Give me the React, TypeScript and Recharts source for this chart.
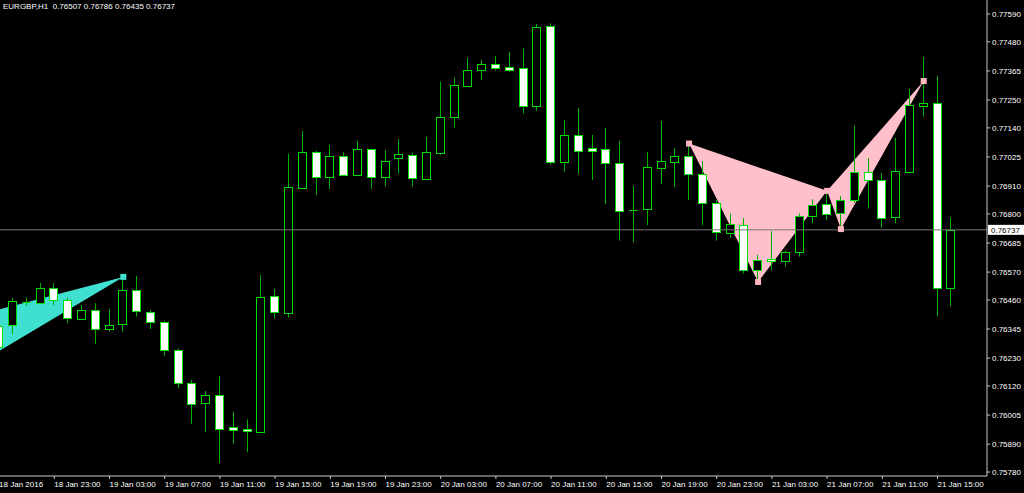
import { ComposedChart, Bar, Area, Line, XAxis, YAxis, ReferenceLine } from 'recharts';

// EURGBP H1, first bar = 18 Jan 19:00 (partly cut off at the left edge)
const tickLabels = [
  '18 Jan 2016', '18 Jan 23:00', '19 Jan 03:00', '19 Jan 07:00', '19 Jan 11:00', '19 Jan 15:00',
  '19 Jan 19:00', '19 Jan 23:00', '20 Jan 03:00', '20 Jan 07:00', '20 Jan 11:00', '20 Jan 15:00',
  '20 Jan 19:00', '20 Jan 23:00', '21 Jan 03:00', '21 Jan 07:00', '21 Jan 11:00', '21 Jan 15:00',
];

const priceTicks = [
  0.7759, 0.7748, 0.77365, 0.7725, 0.7714, 0.77025, 0.7691, 0.768, 0.76685,
  0.7657, 0.7646, 0.76345, 0.7623, 0.7612, 0.76005, 0.7589, 0.7578,
];

const open = [
  0.76357, 0.76361, 0.76452, 0.76449, 0.76508, 0.76461, 0.76386, 0.7642, 0.76344, 0.76364,
  0.76498, 0.76414, 0.76372, 0.76263, 0.76133, 0.76054, 0.76086, 0.75957, 0.7595, 0.75939,
  0.76476, 0.76408, 0.76904, 0.77043, 0.76945, 0.7703, 0.76954, 0.77055, 0.76945, 0.7702,
  0.77034, 0.76937, 0.77042, 0.77183, 0.77305, 0.77368, 0.77392, 0.77379, 0.77375, 0.77228,
  0.77543, 0.77004, 0.77112, 0.77059, 0.77058, 0.77, 0.76817, 0.76818, 0.76981, 0.77005,
  0.77029, 0.76959, 0.76843, 0.76723, 0.76757, 0.76577, 0.76622, 0.76614, 0.76651, 0.76791,
  0.76838, 0.76805, 0.76855, 0.76967, 0.76934, 0.76787, 0.76967, 0.77228, 0.77238, 0.76507,
];
const high = [
  0.76373, 0.76468, 0.7647, 0.76527, 0.76527, 0.76469, 0.7644, 0.76447, 0.76423, 0.76559,
  0.76555, 0.7642, 0.76378, 0.76269, 0.76144, 0.761, 0.76158, 0.76017, 0.75988, 0.76559,
  0.76503, 0.77038, 0.77128, 0.77049, 0.77072, 0.77043, 0.77089, 0.77058, 0.77053, 0.77096,
  0.7704, 0.77104, 0.77323, 0.7734, 0.77417, 0.77408, 0.77424, 0.77441, 0.77454, 0.7755,
  0.77553, 0.77171, 0.77219, 0.77112, 0.77141, 0.77089, 0.76911, 0.77045, 0.77167, 0.77059,
  0.77079, 0.77009, 0.76855, 0.76802, 0.76783, 0.76639, 0.76732, 0.76655, 0.76802, 0.76858,
  0.76884, 0.76871, 0.7715, 0.77021, 0.76962, 0.771, 0.77294, 0.7742, 0.77345, 0.76786,
];
const low = [
  0.76262, 0.76325, 0.76436, 0.76448, 0.7644, 0.76368, 0.76384, 0.76285, 0.76335, 0.76335,
  0.76394, 0.76345, 0.7624, 0.76111, 0.75971, 0.75939, 0.75816, 0.75892, 0.75858, 0.75935,
  0.76387, 0.7639, 0.769, 0.76875, 0.76898, 0.76951, 0.7695, 0.76898, 0.76908, 0.7696,
  0.76908, 0.76935, 0.77033, 0.77141, 0.77303, 0.77329, 0.77366, 0.7736, 0.77196, 0.77207,
  0.76994, 0.76967, 0.76957, 0.76934, 0.76838, 0.76694, 0.76688, 0.76756, 0.76919, 0.76906,
  0.76855, 0.76755, 0.76694, 0.76705, 0.76565, 0.76527, 0.76578, 0.76591, 0.76631, 0.76763,
  0.76776, 0.7674, 0.76844, 0.76821, 0.76746, 0.76763, 0.7696, 0.77184, 0.76394, 0.76435,
];
const close = [
  0.76274, 0.76455, 0.76452, 0.76508, 0.7646, 0.76387, 0.7642, 0.76344, 0.76362, 0.76498,
  0.76416, 0.76372, 0.76262, 0.76133, 0.7605, 0.76086, 0.75951, 0.75945, 0.75941, 0.7647,
  0.76411, 0.76908, 0.77043, 0.76945, 0.7703, 0.76954, 0.77055, 0.76945, 0.7701, 0.77037,
  0.76942, 0.77043, 0.77184, 0.77311, 0.77369, 0.77392, 0.77378, 0.7737, 0.77228, 0.7754,
  0.77005, 0.77111, 0.77047, 0.77047, 0.77002, 0.76812, 0.76817, 0.76987, 0.77008, 0.77029,
  0.76958, 0.76842, 0.76727, 0.7676, 0.76577, 0.76618, 0.76614, 0.76651, 0.76791, 0.76835,
  0.76801, 0.76855, 0.76964, 0.76934, 0.76784, 0.76968, 0.77229, 0.77238, 0.76508, 0.76737,
];

// harmonic pattern points: [bar index, price]
const cyanLeg = [[-5, 0.76095, 0.76351], [9, 0.76551, 0.76551]];
const pinkPoints = { X: [50, 0.77078], A: [55, 0.76531], B: [60, 0.76891], C: [61, 0.7674], D: [67, 0.77325] };

const lastPrice = 0.76737;

const candles = open.map((o, i) => ({
  i, o, h: high[i], l: low[i], c: close[i], range: [low[i], high[i]],
}));

const along = (p: number[], q: number[], x: number) => p[1] + ((q[1] - p[1]) * (x - p[0])) / (q[0] - p[0]);
const { X, A, B, C, D } = pinkPoints;
const triXAB = [
  { i: X[0], v: [X[1], X[1]] },
  { i: A[0], v: [A[1], along(X, B, A[0])] },
  { i: B[0], v: [B[1], B[1]] },
];
const triBCD = [
  { i: B[0], v: [B[1], B[1]] },
  { i: C[0], v: [C[1], along(B, D, C[0])] },
  { i: D[0], v: [D[1], D[1]] },
];
const cyanData = cyanLeg.map(([i, a, b]) => ({ i, v: [a, b] }));
const pinkMarks = [X, A, B, C, D].map(([i, p]) => ({ i, p }));
const cyanMarks = [{ i: cyanLeg[1][0], p: cyanLeg[1][1] }];

const FONT = '"Liberation Sans", Arial, sans-serif';
const WICK = '#00b000';
const EDGE = '#00e000';

function Candle(props: any) {
  const { x, y, width, height, payload } = props;
  if (x == null || y == null) return null;
  const top = Math.min(y, y + height);
  const hh = Math.abs(height);
  const { o, h, l, c } = payload;
  const py = (p: number) => (h === l ? top : top + ((h - p) / (h - l)) * hh);
  const cx = Math.floor(x + width / 2) + 0.5;
  const bodyTop = Math.round(py(Math.max(o, c))) + 0.5;
  const bodyBot = Math.round(py(Math.min(o, c))) + 0.5;
  return (
    <g>
      <line x1={cx} x2={cx} y1={py(h)} y2={py(l)} stroke={WICK} strokeWidth={1} />
      {bodyBot - bodyTop < 1 ? (
        <line x1={cx - 4} x2={cx + 4} y1={bodyTop} y2={bodyTop} stroke={EDGE} strokeWidth={1} />
      ) : (
        <rect x={cx - 4} y={bodyTop} width={8} height={bodyBot - bodyTop}
          fill={c > o ? '#000' : '#fff'} stroke={EDGE} strokeWidth={1} />
      )}
    </g>
  );
}

const square = (color: string) => (p: any) =>
  <rect key={`${p.cx}-${p.cy}`} x={p.cx - 3} y={p.cy - 3} width={6} height={6} fill={color} />;

function XTick(props: any) {
  const { x, y, payload, index } = props;
  return (
    <text x={x} y={y} dy="0.71em" fill="#fff" fontSize={8} fontFamily={FONT} textAnchor="start">
      {tickLabels[index] ?? ''}
    </text>
  );
}

function PriceTag(props: any) {
  const { viewBox } = props;
  const ty = viewBox.y;
  const tx = viewBox.x + viewBox.width + 1;
  return (
    <g>
      <rect x={tx} y={ty - 5} width={36} height={10} fill="#fff" />
      <text x={tx + 3} y={ty} dy="0.355em" fill="#000" fontSize={8} fontFamily={FONT}>
        {lastPrice.toFixed(5)}
      </text>
    </g>
  );
}

export default function App() {
  return (
    <div style={{ position: 'fixed', left: 0, top: 0, width: 1024, height: 493, background: '#000' }}>
      <div style={{
        position: 'absolute', left: 3, top: 2, color: '#fff', fontFamily: FONT, fontSize: 8,
        lineHeight: '10px', whiteSpace: 'pre', zIndex: 2,
      }}>
        {'EURGBP,H1  0.76507 0.76786 0.76435 0.76737'}
      </div>
      <ComposedChart width={1024} height={493} data={candles}
        margin={{ top: 0, right: 0, bottom: 0, left: 0 }}>
        <XAxis dataKey="i" type="number" domain={[0.065, 71.587]} allowDataOverflow
          ticks={tickLabels.map((_, k) => k * 4)} interval={0}
          height={17} tickSize={3} tickMargin={2} tick={<XTick />}
          axisLine={{ stroke: '#c8c8c8' }} tickLine={{ stroke: '#c8c8c8' }} />
        <YAxis orientation="right" type="number" domain={[0.757642, 0.776453]} allowDataOverflow
          ticks={priceTicks} interval={0} width={37} tickSize={3} tickMargin={2}
          tickFormatter={(v: number) => v.toFixed(5)}
          tick={{ fill: '#fff', fontSize: 8, fontFamily: FONT, textAnchor: 'start' }}
          axisLine={{ stroke: '#c8c8c8' }} tickLine={{ stroke: '#c8c8c8' }} />
        <Area data={cyanData} dataKey="v" type="linear" stroke="none" fill="#40e0d0" fillOpacity={1}
          isAnimationActive={false} />
        <Area data={triXAB} dataKey="v" type="linear" stroke="none" fill="#ffc0cb" fillOpacity={1}
          isAnimationActive={false} />
        <Area data={triBCD} dataKey="v" type="linear" stroke="none" fill="#ffc0cb" fillOpacity={1}
          isAnimationActive={false} />
        <ReferenceLine y={lastPrice} stroke="#777" strokeWidth={1} label={<PriceTag />} />
        <Line data={cyanMarks} dataKey="p" stroke="none" dot={square('#40e0d0')} activeDot={false}
          isAnimationActive={false} />
        <Line data={pinkMarks} dataKey="p" stroke="none" dot={square('#ffb6c1')} activeDot={false}
          isAnimationActive={false} />
        <Bar dataKey="range" barSize={9} shape={<Candle />} isAnimationActive={false} />
      </ComposedChart>
    </div>
  );
}
